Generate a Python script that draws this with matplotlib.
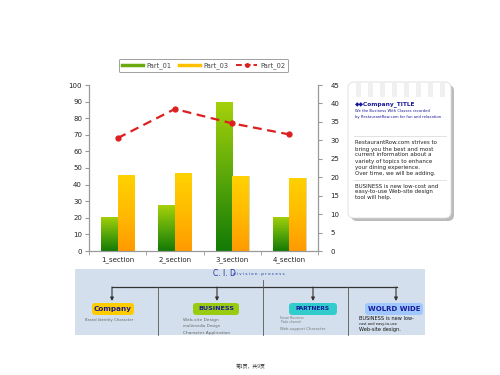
import matplotlib
matplotlib.use("Agg")
import matplotlib.pyplot as plt
import numpy as np
from matplotlib.patches import FancyBboxPatch, Rectangle
from matplotlib.lines import Line2D
from matplotlib.colors import LinearSegmentedColormap

plt.rcParams['font.family'] = ['DejaVu Sans', 'Noto Sans CJK SC']

categories = ["1_section", "2_section", "3_section", "4_section"]
part_01 = [20.5, 27.5, 90, 20.5]
part_03 = [45.8, 46.8, 45, 44]
part_02 = [30.6, 38.5, 34.6, 31.6]
left_ticks = [0, 10, 20, 30, 40, 50, 60, 70, 80, 90, 100]
right_ticks = [0, 5, 10, 15, 20, 25, 30, 35, 40, 45]

W, H = 500, 375
fig = plt.figure(figsize=(5, 3.75), dpi=100)
fig.patch.set_facecolor("white")

# background drawing axes in pixel coordinates
bg = fig.add_axes([0, 0, 1, 1], zorder=0)
bg.set_xlim(0, W)
bg.set_ylim(H, 0)
bg.axis("off")

def px(x0, y0, x1, y1):
    return [x0 / W, 1 - y1 / H, (x1 - x0) / W, (y1 - y0) / H]

ax = fig.add_axes(px(89, 85, 318, 251), zorder=2)
ax.patch.set_alpha(0)
ax2 = ax.twinx()
ax2.set_zorder(3)

x = np.arange(len(categories))
bw = 0.29
green_cmap = LinearSegmentedColormap.from_list("g", ["#127a05", "#5aa80a", "#a6d10a"])
orange_cmap = LinearSegmentedColormap.from_list("o", ["#ff9a00", "#ffbb00", "#ffd200"])

b1 = ax.bar(x - bw / 2, part_01, bw, color="#7fbf00", edgecolor="none")
b2 = ax.bar(x + bw / 2, part_03, bw, color="#ffb000", edgecolor="none")
grad = np.linspace(0, 1, 256).reshape(-1, 1)
for bars, cmap in ((b1, green_cmap), (b2, orange_cmap)):
    for p in bars:
        x0, y0 = p.get_x(), p.get_y()
        w, h = p.get_width(), p.get_height()
        im = ax.imshow(grad, cmap=cmap, origin="lower", aspect="auto",
                       extent=[x0, x0 + w, y0, y0 + h], zorder=2)
        im.set_clip_path(p)
        p.set_facecolor("none")
        p.set_edgecolor("#c8c8a0")
        p.set_linewidth(0.5)

ax.set_xlim(-0.5, len(categories) - 0.5)
ax.set_ylim(0, 100)
ax.set_yticks(left_ticks)
ax.set_xticks(x)
ax.set_xticklabels(categories)
ax.set_xticks(np.arange(len(categories) + 1) - 0.5, minor=True)
ax.tick_params(axis="x", which="major", length=0, labelsize=5, pad=4, colors="#222222")
ax.tick_params(axis="x", which="minor", length=3, color="#999999")
ax.tick_params(axis="y", length=3, labelsize=5, color="#999999", labelcolor="#222222", pad=2)

ax2.plot(x, part_02, color="#dd1f1f", linestyle=(0, (4, 2.5)), lw=1.6,
         marker="o", markersize=3.5, zorder=5)
ax2.set_ylim(0, 45)
ax2.set_yticks(right_ticks)
ax2.tick_params(axis="y", length=3, labelsize=5, color="#999999", labelcolor="#222222", pad=6)

for a in (ax, ax2):
    a.spines["top"].set_visible(False)
    for s in ("left", "right", "bottom"):
        a.spines[s].set_color("#999999")
        a.spines[s].set_linewidth(0.8)

handles = [Line2D([], [], color="#6aaa10", lw=2.5),
           Line2D([], [], color="#ffc000", lw=2.5),
           Line2D([], [], color="#dd1f1f", lw=1.4, linestyle=(0, (3, 1.5)),
                  marker="o", markersize=2.5)]
leg = fig.legend(handles, ["Part_01", "Part_03", "Part_02"], loc="center",
                 bbox_to_anchor=(203.5 / W, 1 - 65.5 / H), ncol=3, fontsize=4.8,
                 frameon=True, fancybox=True, edgecolor="#888888",
                 handlelength=3.2, columnspacing=1.2, handletextpad=0.4,
                 borderpad=0.5)
leg.get_frame().set_linewidth(0.7)
for t in leg.get_texts():
    t.set_color("#444444")

# ---------- note box ----------
bg.add_patch(FancyBboxPatch((351, 85), 103, 136, boxstyle="round,pad=0,rounding_size=6",
                            fc="#bbbbbb", ec="none"))
bg.add_patch(FancyBboxPatch((348, 82), 103, 136, boxstyle="round,pad=0,rounding_size=6",
                            fc="white", ec="#dddddd", lw=0.6))
for i in range(8):
    bg.add_patch(Rectangle((356 + i * 12, 82), 5, 15, fc="#f0f0f0", ec="none"))
bg.text(355, 104, "◆◆Company_TITLE", fontsize=4.2, color="#1a1a99",
        fontweight="bold", va="center")
bg.text(355, 114, "We the Business With Classes recorded\nby RestaurantRow.com for fun and relaxation .",
        fontsize=2.7, color="#1a1a99", va="center", linespacing=1.4)
bg.plot([354, 446], [136, 136], color="#dddddd", lw=0.6)
bg.text(355, 158, "RestaurantRow.com strives to\nbring you the best and most\ncurrent information about a\n"
        "variety of topics to enhance\nyour dining experience.\nOver time, we will be adding.",
        fontsize=4.0, color="#222222", va="center", linespacing=1.25)
bg.plot([354, 446], [180, 180], color="#dddddd", lw=0.6)
bg.text(355, 192, "BUSINESS is new low-cost and\neasy-to-use Web-site design\ntool will help.",
        fontsize=4.0, color="#222222", va="center", linespacing=1.25)

# ---------- bottom diagram ----------
bg.add_patch(Rectangle((75, 269), 350, 66, fc="#d3dfec", ec="none"))
bg.text(213, 273.5, "C. I. D", fontsize=5.5, color="#2233aa", ha="left", va="center")
bg.text(233, 274, "d i v i s i o n . p r o c e s s", fontsize=3.0, color="#2233aa",
        ha="left", va="center")
bg.plot([112, 397], [287, 287], color="#333333", lw=0.9)
bg.plot([262.5, 262.5], [280, 335], color="#555555", lw=0.6)
bg.plot([158, 158], [287, 335], color="#555555", lw=0.6)
bg.plot([348, 348], [287, 335], color="#555555", lw=0.6)
for xa in (112, 217, 313, 396):
    bg.annotate("", xy=(xa, 301), xytext=(xa, 287),
                arrowprops=dict(arrowstyle="-|>", color="#333333", lw=0.8,
                                mutation_scale=5, shrinkA=0, shrinkB=0))
boxes = [(92, 134, "#ffcc00", "Company", 5.2),
         (193, 239, "#99cc11", "BUSINESS", 4.6),
         (289, 337, "#33cccc", "PARTNERS", 4.2),
         (365, 423, "#a0c8ff", "WOLRD WIDE", 5.0)]
for x0, x1, c, lab, fs in boxes:
    bg.add_patch(FancyBboxPatch((x0, 303), x1 - x0, 12,
                                boxstyle="round,pad=0,rounding_size=3", fc=c, ec="none"))
    bg.text((x0 + x1) / 2, 309, lab, fontsize=fs, color="#1a1a99", fontweight="bold",
            ha="center", va="center")
bg.text(85, 320, "Brand Identity Character", fontsize=2.8, color="#666666", va="center")
bg.text(183, 320, "Web-site Design", fontsize=3.2, color="#666666", va="center")
bg.text(183, 325.5, "multimedia Design", fontsize=2.8, color="#666666", va="center")
bg.text(183, 333, "Character Application", fontsize=3.2, color="#666666", va="center")
bg.text(280, 318, "Forum Business", fontsize=2.2, color="#777777", va="center")
bg.text(280, 322, "Trade channel", fontsize=2.2, color="#777777", va="center")
bg.text(280, 329, "Web-support Character", fontsize=2.8, color="#777777", va="center")
bg.text(359, 318.5, "BUSINESS is new low-", fontsize=3.6, color="#111111", va="center")
bg.text(359, 323.5, "cost and easy-to-use", fontsize=2.6, color="#111111", va="center")
bg.text(359, 329, "Web-site design.", fontsize=3.6, color="#111111", va="center")

bg.text(251, 367, "第1页，共9页", fontsize=3.5, color="#333333", ha="center", va="center",
        family=["Noto Sans CJK SC", "DejaVu Sans"])

fig.savefig("out.png", dpi=100, facecolor="white")
